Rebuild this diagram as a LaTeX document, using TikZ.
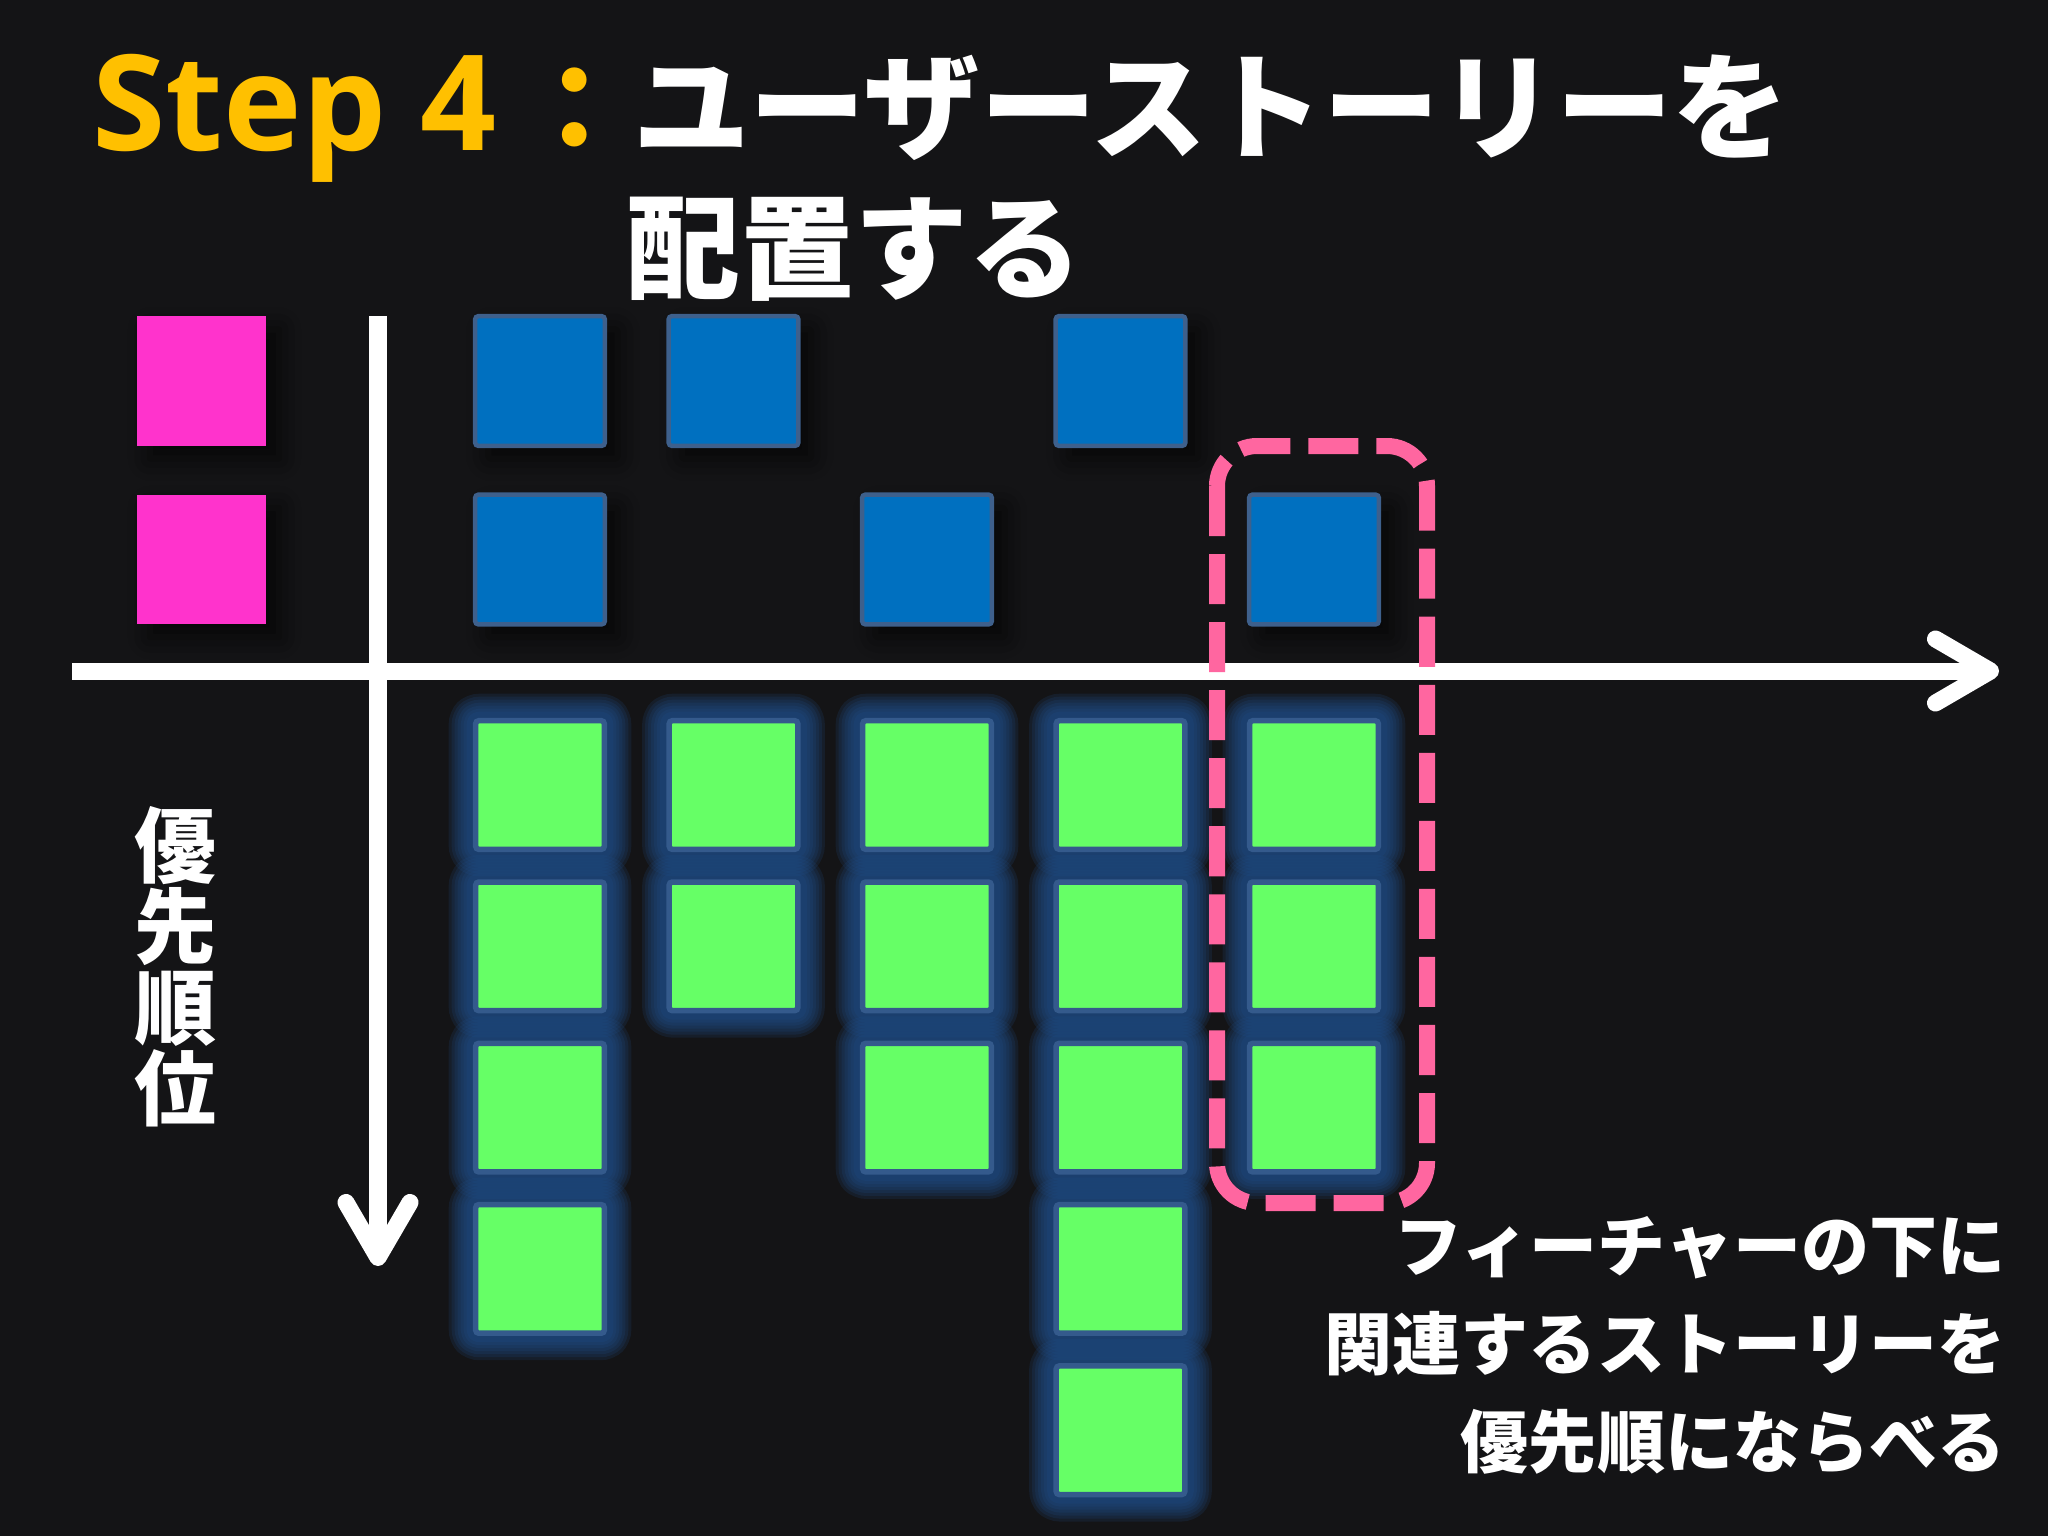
\documentclass[tikz,border=0pt]{standalone}
\usepackage{fontspec}
\usepackage{tikz}
\usetikzlibrary{arrows.meta, shadows.blur, positioning}
\newfontfamily\jpfont{Noto Sans CJK JP}
\newfontfamily\stepfont{Open Sans}
\definecolor{bgdark}{RGB}{20,20,22}
\definecolor{stepyellow}{RGB}{255,192,0}
\definecolor{actpink}{RGB}{255,51,204}
\definecolor{featblue}{RGB}{0,112,192}
\definecolor{featedge}{RGB}{62,96,140}
\definecolor{storygreen}{RGB}{102,255,102}
\definecolor{storyedge}{RGB}{52,90,140}
\definecolor{glowblue}{RGB}{32,82,145}
\definecolor{framepink}{RGB}{255,102,160}
\tikzset{
  sq/.style={rectangle, inner sep=0pt, rounded corners=0.3mm},
  dropshadow/.style={blur shadow={shadow xshift=1.3mm, shadow yshift=-1.3mm,
      shadow blur radius=2.2mm, shadow opacity=70}},
  actbox/.style={sq, fill=actpink, minimum size=12.9mm, rounded corners=0pt, dropshadow},
  featbox/.style={sq, fill=featblue, draw=featedge, line width=0.45mm,
      minimum size=12.95mm, dropshadow},
  glow/.style={preaction={draw=glowblue, line width=#1, line join=round, draw opacity=.17}},
  storybox/.style={sq, fill=storygreen, draw=storyedge, line width=0.55mm,
      minimum size=12.85mm,
      glow=5.4mm, glow=4.8mm, glow=4.2mm, glow=3.6mm, glow=3.0mm, glow=2.4mm, glow=1.8mm},
  axis/.style={draw=white, line width=1.7mm,
      -{Straight Barb[length=5.5mm, width=6.4mm, round]}},
  featframe/.style={draw=framepink, line width=1.6mm, rounded corners=4mm,
      dash pattern=on 5mm off 1.8mm},
  jptext/.style={text=white, inner sep=0pt}
}
\begin{document}
\begin{tikzpicture}[x=0.01cm, y=-0.01cm]
\fill[bgdark] (0,0) rectangle (2048,1536);

% axes
\coordinate (xfrom) at (72,671);
\coordinate (xto) at (1999,671);
\coordinate (yfrom) at (378,316);
\coordinate (yto) at (378,1266);
\draw[axis] (xfrom) -- (xto);
\draw[axis] (yfrom) -- (yto);

% activities, features, stories
\node[actbox] (act1) at (201.5,381) {};
\node[actbox] (act2) at (201.5,559.5) {};
\foreach \c/\r in {1/1, 2/1, 4/1, 1/2, 3/2, 5/2}
  \node[featbox] (feat\c\r) at ({540+193.5*(\c-1)},{381+178.5*(\r-1)}) {};
\foreach \c/\n in {1/4, 2/2, 3/3, 4/5, 5/3}
  \foreach \r in {1,...,\n}
    \node[storybox] (story\c\r) at ({540+193.5*(\c-1)},{785+161.3*(\r-1)}) {};

\draw[featframe] (1217,446) rectangle (1427,1203);

% texts
\node[anchor=base west, inner sep=0pt, text=stepyellow,
  font=\stepfont\bfseries\fontsize{37.8pt}{40pt}\selectfont] (step) at (92,150) {Step 4};
\node[jptext, anchor=base west, font=\jpfont\bfseries\fontsize{33.1pt}{35pt}\selectfont]
  (title) at (516,150) {\textcolor{stepyellow}{：}ユーザーストーリーを};
\node[jptext, anchor=base west, font=\jpfont\bfseries\fontsize{32.4pt}{35pt}\selectfont]
  (title2) at (626,290) {配置する};
\node[jptext, align=center, font=\jpfont\bfseries\fontsize{23.3pt}{23pt}\selectfont]
  (prio) at (175,967) {優\\先\\順\\位};
\node[jptext, anchor=east, align=right, font=\jpfont\bfseries\fontsize{19.35pt}{27.9pt}\selectfont]
  (note) at (2006,1345) {フィーチャーの下に\\関連するストーリーを\\優先順にならべる};
\end{tikzpicture}
\end{document}
